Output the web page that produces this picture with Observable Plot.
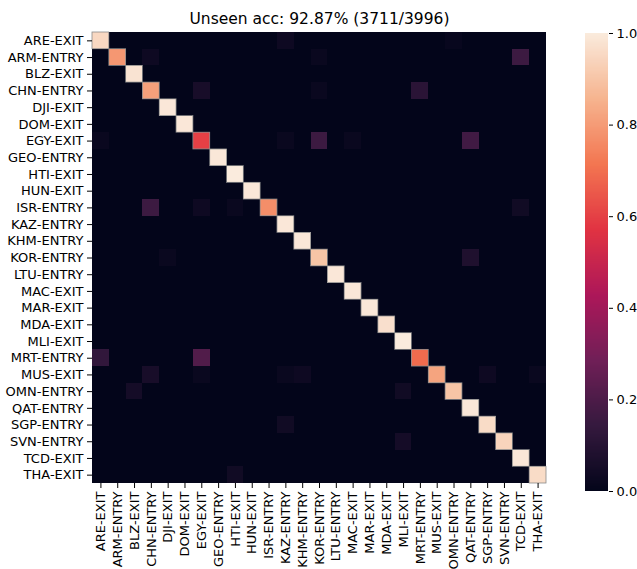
<!DOCTYPE html>
<html><head><meta charset="utf-8">
<script src="https://cdn.jsdelivr.net/npm/d3@7"></script>
<script src="https://cdn.jsdelivr.net/npm/@observablehq/plot@0.6"></script>
<style>
body{margin:0;background:#fff;}
#wrap{position:relative;width:637px;height:569px;}
#wrap svg{position:absolute;left:0;top:0;}
</style>
</head><body><div id="wrap"></div>
<script>
const labels = ["ARE-EXIT","ARM-ENTRY","BLZ-EXIT","CHN-ENTRY","DJI-EXIT","DOM-EXIT","EGY-EXIT","GEO-ENTRY","HTI-EXIT","HUN-EXIT","ISR-ENTRY","KAZ-ENTRY","KHM-ENTRY","KOR-ENTRY","LTU-ENTRY","MAC-EXIT","MAR-EXIT","MDA-EXIT","MLI-EXIT","MRT-ENTRY","MUS-EXIT","OMN-ENTRY","QAT-ENTRY","SGP-ENTRY","SVN-ENTRY","TCD-EXIT","THA-EXIT"];
const diagValues = [0.95,0.79,0.98,0.81,0.99,0.99,0.60,0.99,1.0,0.99,0.77,0.99,0.99,0.90,0.99,0.99,0.99,0.97,1.0,0.69,0.82,0.90,0.99,0.96,0.94,0.99,0.96];
const offRows   = [0,0, 1,1,1, 3,3,3, 6,6,6,6,6, 10,10,10,10, 13,13, 19,19, 20,20,20,20,20,20, 21,21, 23, 24, 26];
const offCols   = [11,21, 3,13,25, 6,13,19, 0,11,13,15,22, 3,6,8,25, 4,22, 0,6, 3,6,11,12,23,26, 2,18, 11, 18, 8];
const offValues = [0.03,0.015, 0.03,0.02,0.16, 0.06,0.02,0.11, 0.02,0.02,0.16,0.02,0.17, 0.16,0.03,0.02,0.04, 0.02,0.08, 0.13,0.21, 0.06,0.02,0.02,0.03,0.03,0.02, 0.05,0.04, 0.04, 0.05, 0.04];
const colorbarTicks = [0,0.2,0.4,0.6,0.8,1.0];
const title = "Unseen acc: 92.87% (3711/3996)";
const rocketStops = [0,1/7,2/7,3/7,4/7,5/7,6/7,1];
const rocketColors = ["#03051a","#35193e","#701f57","#ad1759","#e13342","#f37651","#f6b48f","#faebdd"];

const n = labels.length;
const cells = [];
labels.forEach((r,i)=>labels.forEach((c,j)=>cells.push({row:r,col:c,value:i===j?diagValues[i]:0})));
offRows.forEach((r,k)=>{ cells[r*n+offCols[k]].value = offValues[k]; });

const colorOpts = () => ({type:"linear", domain:rocketStops, range:rocketColors, interpolate:"rgb", clamp:true});
const font = {fontFamily:"'DejaVu Sans', sans-serif", fontSize:"13px", color:"#000", background:"transparent"};

const heat = Plot.plot({
  width:637, height:569, marginLeft:92, marginRight:91, marginTop:32, marginBottom:86,
  style:font,
  x:{domain:labels, padding:0, round:false},
  y:{domain:labels, padding:0, round:false},
  color:colorOpts(),
  marks:[
    Plot.cell(cells,{x:"col",y:"row",fill:"value",shapeRendering:"crispEdges"}),
    Plot.cell(cells.filter(d=>d.row===d.col),{x:"col",y:"row",fill:"none",stroke:"#8a8a8a",strokeWidth:0.8}),
    Plot.axisX({tickRotate:-90, tickSize:5, tickPadding:3, fontSize:13, label:null}),
    Plot.axisY({tickSize:5, tickPadding:4, fontSize:13, label:null}),
    Plot.text([title],{frameAnchor:"top",dy:-9,lineAnchor:"bottom",fontSize:15.5,text:d=>d})
  ]
});

const step = 0.0025;
const bar = Plot.plot({
  width:637, height:569, marginLeft:585, marginRight:29, marginTop:33, marginBottom:78,
  style:font,
  x:{axis:null},
  y:{domain:[0,1]},
  color:colorOpts(),
  marks:[
    Plot.rect(d3.range(0,1,step),{y1:d=>d, y2:d=>Math.min(1,d+step+0.001), fill:d=>d+step/2, shapeRendering:"crispEdges"}),
    Plot.axisY({anchor:"right", ticks:colorbarTicks, tickFormat:".1f", tickSize:4, tickPadding:4, fontSize:13, label:null})
  ]
});

document.getElementById("wrap").append(heat, bar);
</script>
</body></html>
